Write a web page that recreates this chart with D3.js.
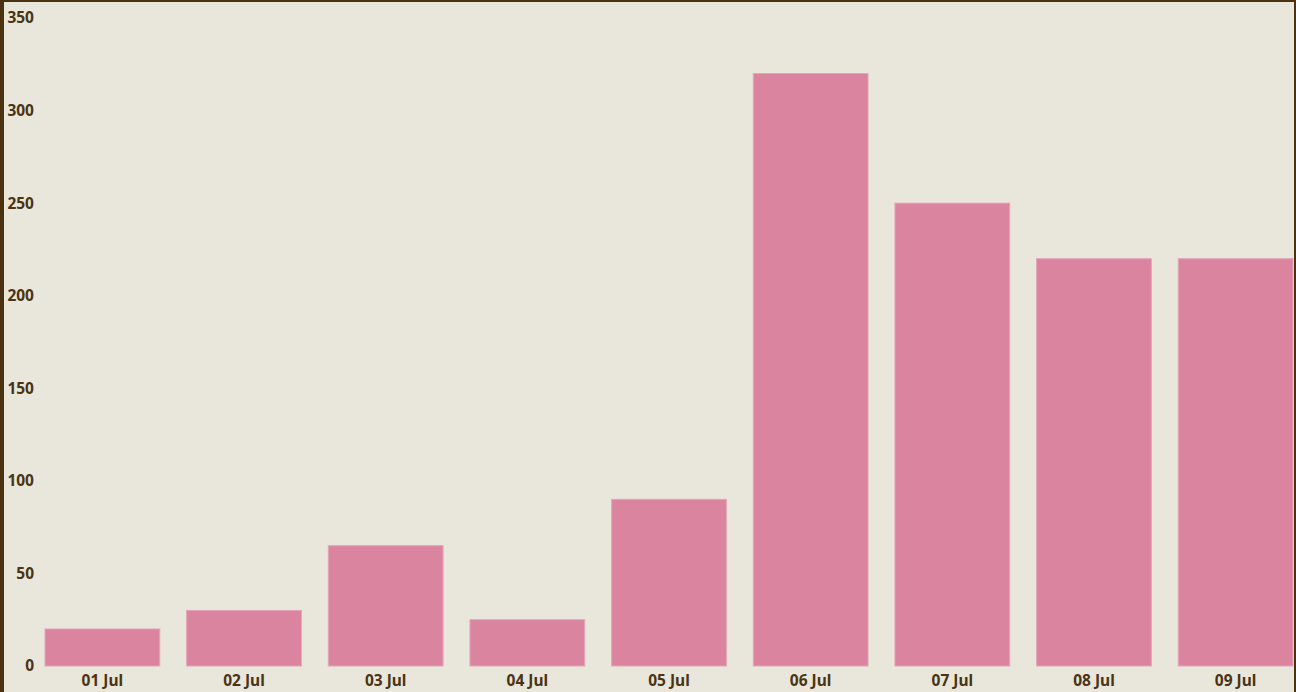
<!DOCTYPE html>
<html>
<head>
<meta charset="utf-8">
<script src="https://cdn.jsdelivr.net/npm/d3@7"></script>
<style>
  html, body { margin: 0; padding: 0; background: #e9e6db; }
  svg { display: block; }
  text { font-family: "Noto Sans", "Open Sans", sans-serif; font-weight: bold; fill: #4a3413; }
</style>
</head>
<body>
<svg id="chart" width="1296" height="692"></svg>
<script>
const days = ["01 Jul", "02 Jul", "03 Jul", "04 Jul", "05 Jul", "06 Jul", "07 Jul", "08 Jul", "09 Jul"];
const counts = [20, 30, 65, 25, 90, 320, 250, 220, 220];
const yTicks = [0, 50, 100, 150, 200, 250, 300, 350];

const W = 1296, H = 692;
const svg = d3.select("#chart");

svg.append("rect").attr("width", W).attr("height", H).attr("fill", "#e9e6db");

const x = d3.scaleBand().domain(days).range([45, 1293]).paddingInner(0.19).paddingOuter(0);
const y = d3.scaleLinear().domain([0, 350]).range([666, 18]);

svg.append("g").selectAll("rect").data(days).join("rect")
  .attr("x", d => x(d))
  .attr("y", (d, i) => y(counts[i]))
  .attr("width", x.bandwidth())
  .attr("height", (d, i) => y(0) - y(counts[i]))
  .attr("fill", "#db849f")
  .attr("stroke", "#e3a5b8")
  .attr("stroke-width", 1);

const yAxis = svg.append("g").attr("transform", "translate(34,0)")
  .call(d3.axisLeft(y).tickValues(yTicks).tickSize(0).tickPadding(0));
yAxis.select(".domain").remove();
yAxis.selectAll("text").style("font-size", "15.5px").attr("fill", null);

const xAxis = svg.append("g").attr("transform", "translate(0,673)")
  .call(d3.axisBottom(x).tickSize(0).tickPadding(2));
xAxis.select(".domain").remove();
xAxis.selectAll("text").style("font-size", "15.5px").attr("fill", null);

// frame edges
svg.append("rect").attr("x", 0).attr("y", 0).attr("width", 4).attr("height", H).attr("fill", "#4a3210");
svg.append("rect").attr("x", 0).attr("y", 0).attr("width", W).attr("height", 2).attr("fill", "#4a3210");
svg.append("rect").attr("x", W - 2).attr("y", 0).attr("width", 2).attr("height", H).attr("fill", "#4a3210");
</script>
</body>
</html>
